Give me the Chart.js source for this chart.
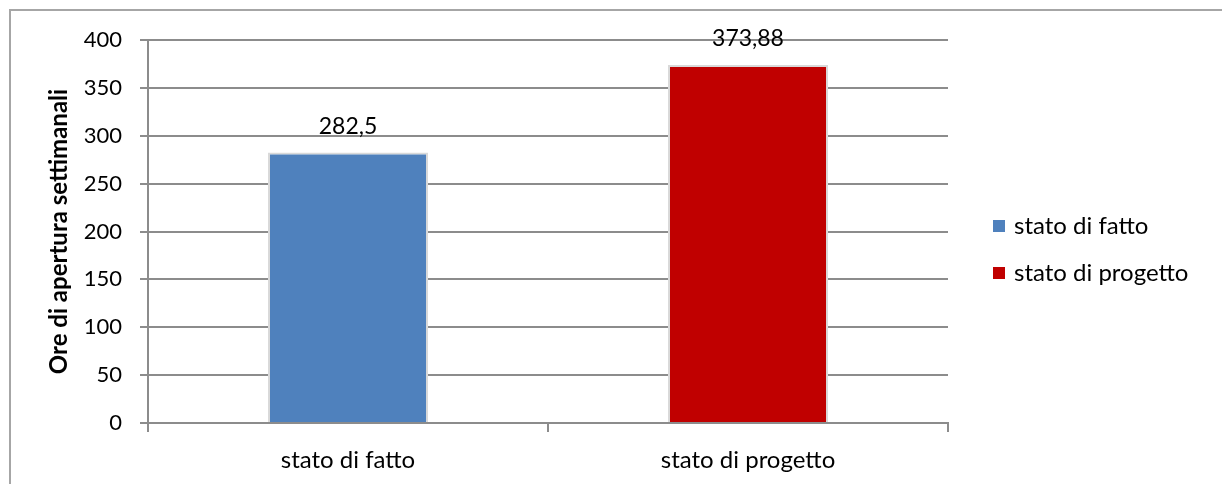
<!DOCTYPE html>
<html>
<head>
<meta charset="utf-8">
<script src="https://cdn.jsdelivr.net/npm/chart.js@4/dist/chart.umd.min.js"></script>
<style>
    body { margin: 0; background: #fff; }
    #wrap { position: relative; width: 1222px; height: 484px; }
    #frame {
        position: absolute; left: 9px; top: 9px; right: 0; bottom: -2px;
        border-top: 2px solid #a6a6a6; border-left: 2px solid #a6a6a6;
    }
    #chart { position: absolute; left: 0; top: 0; }
</style>
</head>
<body>
<div id="wrap">
    <div id="frame"></div>
    <canvas id="chart" width="1222" height="484"></canvas>
</div>
<script>
const categories = ['stato di fatto', 'stato di progetto'];
const hours = [282.5, 373.88];
const barColors = ['#4f81bd', '#c00000'];
const yTicks = [0, 50, 100, 150, 200, 250, 300, 350, 400];

const FONT = 'Lato, "Open Sans", sans-serif';

// value labels above each bar, comma decimals
const valueLabels = {
    id: 'valueLabels',
    afterDatasetsDraw(chart) {
        const ctx = chart.ctx;
        const meta = chart.getDatasetMeta(0);
        ctx.save();
        ctx.font = '23px ' + FONT;
        ctx.fillStyle = '#000';
        ctx.textAlign = 'center';
        ctx.textBaseline = 'middle';
        meta.data.forEach((bar, i) => {
            const text = hours[i].toLocaleString('it-IT');
            ctx.fillText(text, bar.x, bar.y - 26);
        });
        ctx.restore();
    }
};

// legend on the right, one entry per category
const sideLegend = {
    id: 'sideLegend',
    afterDraw(chart) {
        const ctx = chart.ctx;
        const x = chart.chartArea.right + 45;
        ctx.save();
        ctx.font = '24px ' + FONT;
        ctx.textBaseline = 'middle';
        categories.forEach((name, i) => {
            const y = 226 + i * 47;
            ctx.fillStyle = barColors[i];
            ctx.fillRect(x, y - 6, 12, 12);
            ctx.fillStyle = '#000';
            ctx.fillText(name, x + 21, y);
        });
        ctx.restore();
    }
};

new Chart(document.getElementById('chart').getContext('2d'), {
    type: 'bar',
    data: {
        labels: categories,
        datasets: [{
            data: hours,
            backgroundColor: barColors,
            borderColor: '#d9d9d9',
            borderWidth: 2,
            barPercentage: 0.4,
            categoryPercentage: 1
        }]
    },
    options: {
        responsive: false,
        animation: false,
        layout: { padding: { left: 0, right: 274, top: 40, bottom: 0 } },
        plugins: {
            legend: { display: false },
            tooltip: { enabled: false }
        },
        scales: {
            x: {
                grid: {
                    drawOnChartArea: false,
                    drawTicks: true,
                    tickLength: 9,
                    color: '#8c8c8c',
                    lineWidth: 2
                },
                border: { color: '#8c8c8c', width: 2 },
                ticks: { color: '#000', font: { family: FONT, size: 24 }, padding: 14 },
                afterFit(scale) { scale.height = 61; }
            },
            y: {
                min: 0,
                max: 400,
                afterBuildTicks(scale) { scale.ticks = yTicks.map(v => ({ value: v })); },
                grid: { color: '#8c8c8c', lineWidth: 2, tickLength: 8 },
                border: { color: '#8c8c8c', width: 2 },
                ticks: { color: '#000', font: { family: FONT, size: 22 }, padding: 18 },
                title: {
                    display: true,
                    text: 'Ore di apertura settimanali',
                    color: '#000',
                    font: { family: FONT, size: 24, weight: 'bold' },
                    padding: { top: 45, bottom: 0 }
                },
                afterFit(scale) { scale.width = 148; }
            }
        }
    },
    plugins: [valueLabels, sideLegend]
});
</script>
</body>
</html>
